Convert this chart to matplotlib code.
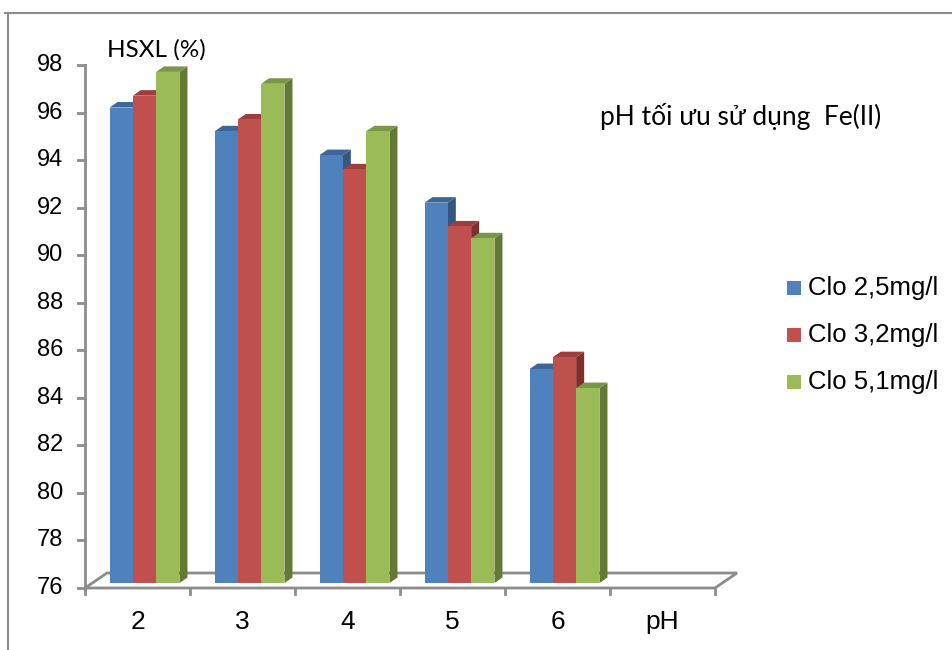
import matplotlib
matplotlib.use("Agg")
import matplotlib.pyplot as plt
from matplotlib.patches import Polygon, Rectangle
from matplotlib.lines import Line2D

# --- Données ---
categories = ["2", "3", "4", "5", "6", "pH"]
series_names = ["Clo 2,5mg/l", "Clo 3,2mg/l", "Clo 5,1mg/l"]
clo_25 = [96.0, 95.0, 94.0, 92.0, 85.0]
clo_32 = [96.5, 95.5, 93.4, 91.0, 85.5]
clo_51 = [97.5, 97.0, 95.0, 90.5, 84.2]
y_ticks = [76, 78, 80, 82, 84, 86, 88, 90, 92, 94, 96, 98]

# couleurs : face avant, dessus, côté
front_colors = ["#4F81BD", "#C0504D", "#9BBB59"]
top_colors = ["#3D6699", "#9E3D3B", "#7A9646"]
side_colors = ["#34577F", "#7E2E2C", "#627A33"]
grey = "#8C8C8C"

W, H = 953, 650
fig = plt.figure(figsize=(W / 100, H / 100), dpi=100)

# axe dans le plan avant (pixels)
left, right, bottom, top = 85, 715, 588, 65
ax = fig.add_axes([left / W, (H - bottom) / H, (right - left) / W, (bottom - top) / H])
ax.set_xlim(-0.5, len(categories) - 0.5)
ax.set_ylim(76, 98)
ax.axis("off")

# conversion pixels -> unités de données
px_x = (right - left) / len(categories)
px_y = (bottom - top) / (98 - 76)

def dx(p):
    return p / px_x

def dy(p):
    return p / px_y

# --- Sol en perspective ---
fdx, fdy = dx(22), dy(15)
x0, x1 = -0.5, len(categories) - 0.5
floor = Polygon([(x0, 76), (x1, 76), (x1 + fdx, 76 + fdy), (x0 + fdx, 76 + fdy)],
                closed=True, facecolor="white", edgecolor=grey, lw=2, zorder=1, clip_on=False)
ax.add_patch(floor)

# axe vertical + graduations
ax.plot([x0, x0], [76, 98], color=grey, lw=2, clip_on=False, zorder=2)
for t in y_ticks:
    ax.plot([x0 - dx(7), x0], [t, t], color=grey, lw=2, clip_on=False, zorder=2)
    ax.text(x0 - dx(22), t, str(t), ha="right", va="center", fontsize=17,
            family="Liberation Sans")

# graduations horizontales
for i in range(len(categories) + 1):
    xb = x0 + i
    ax.plot([xb, xb], [76, 76 - dy(6)], color=grey, lw=2, clip_on=False, zorder=2)
for i, c in enumerate(categories):
    ax.text(i, 76 - dy(34), c, ha="center", va="center", fontsize=19, family="Liberation Sans")

# --- Barres 3D ---
bw = 0.222
off_x, off_y = dx(7), dy(5)      # position en profondeur de la face avant
bdx, bdy = dx(8), dy(5.5)        # profondeur des barres
for s, vals in enumerate([clo_25, clo_32, clo_51]):
    for i, v in enumerate(vals):
        xa = i + (s - 1.5) * bw + off_x
        xb = xa + bw
        ya = 76 + off_y
        yb = v + off_y
        # côté
        ax.add_patch(Polygon([(xb, ya), (xb + bdx, ya + bdy), (xb + bdx, yb + bdy), (xb, yb)],
                             closed=True, facecolor=side_colors[s], edgecolor="none",
                             zorder=3 + i * 3 + s, clip_on=False))
        # dessus
        ax.add_patch(Polygon([(xa, yb), (xb, yb), (xb + bdx, yb + bdy), (xa + bdx, yb + bdy)],
                             closed=True, facecolor=top_colors[s], edgecolor="none",
                             zorder=3 + i * 3 + s, clip_on=False))
        # face avant
        ax.add_patch(Rectangle((xa, ya), bw, yb - ya, facecolor=front_colors[s],
                               edgecolor="none", zorder=3 + i * 3 + s + 0.5, clip_on=False))

# --- Textes ---
fig.text(107 / W, 1 - 50 / H, "HSXL (%)", fontsize=17.5, family="Lato", ha="left", va="center")
fig.text(600 / W, 1 - 117 / H, "pH tối ưu sử dụng  Fe(II)", fontsize=19, family="Lato",
         ha="left", va="center")

# --- Légende ---
for s, name in enumerate(series_names):
    yc = 288 + s * 47
    fig.patches.append(Rectangle((787 / W, 1 - (yc + 7) / H), 14 / W, 14 / H,
                                 facecolor=front_colors[s], edgecolor="none",
                                 transform=fig.transFigure, figure=fig))
    fig.text(808 / W, 1 - yc / H, name, fontsize=18.5, family="Liberation Sans",
             ha="left", va="center")

# --- Cadre ---
fig.lines.append(Line2D([5 / W, 1], [1 - 13 / H, 1 - 13 / H], color=grey, lw=1.5,
                        transform=fig.transFigure))
fig.lines.append(Line2D([8 / W, 8 / W], [1 - 13 / H, 0], color=grey, lw=1.5,
                        transform=fig.transFigure))

fig.savefig("out.png", dpi=100)
